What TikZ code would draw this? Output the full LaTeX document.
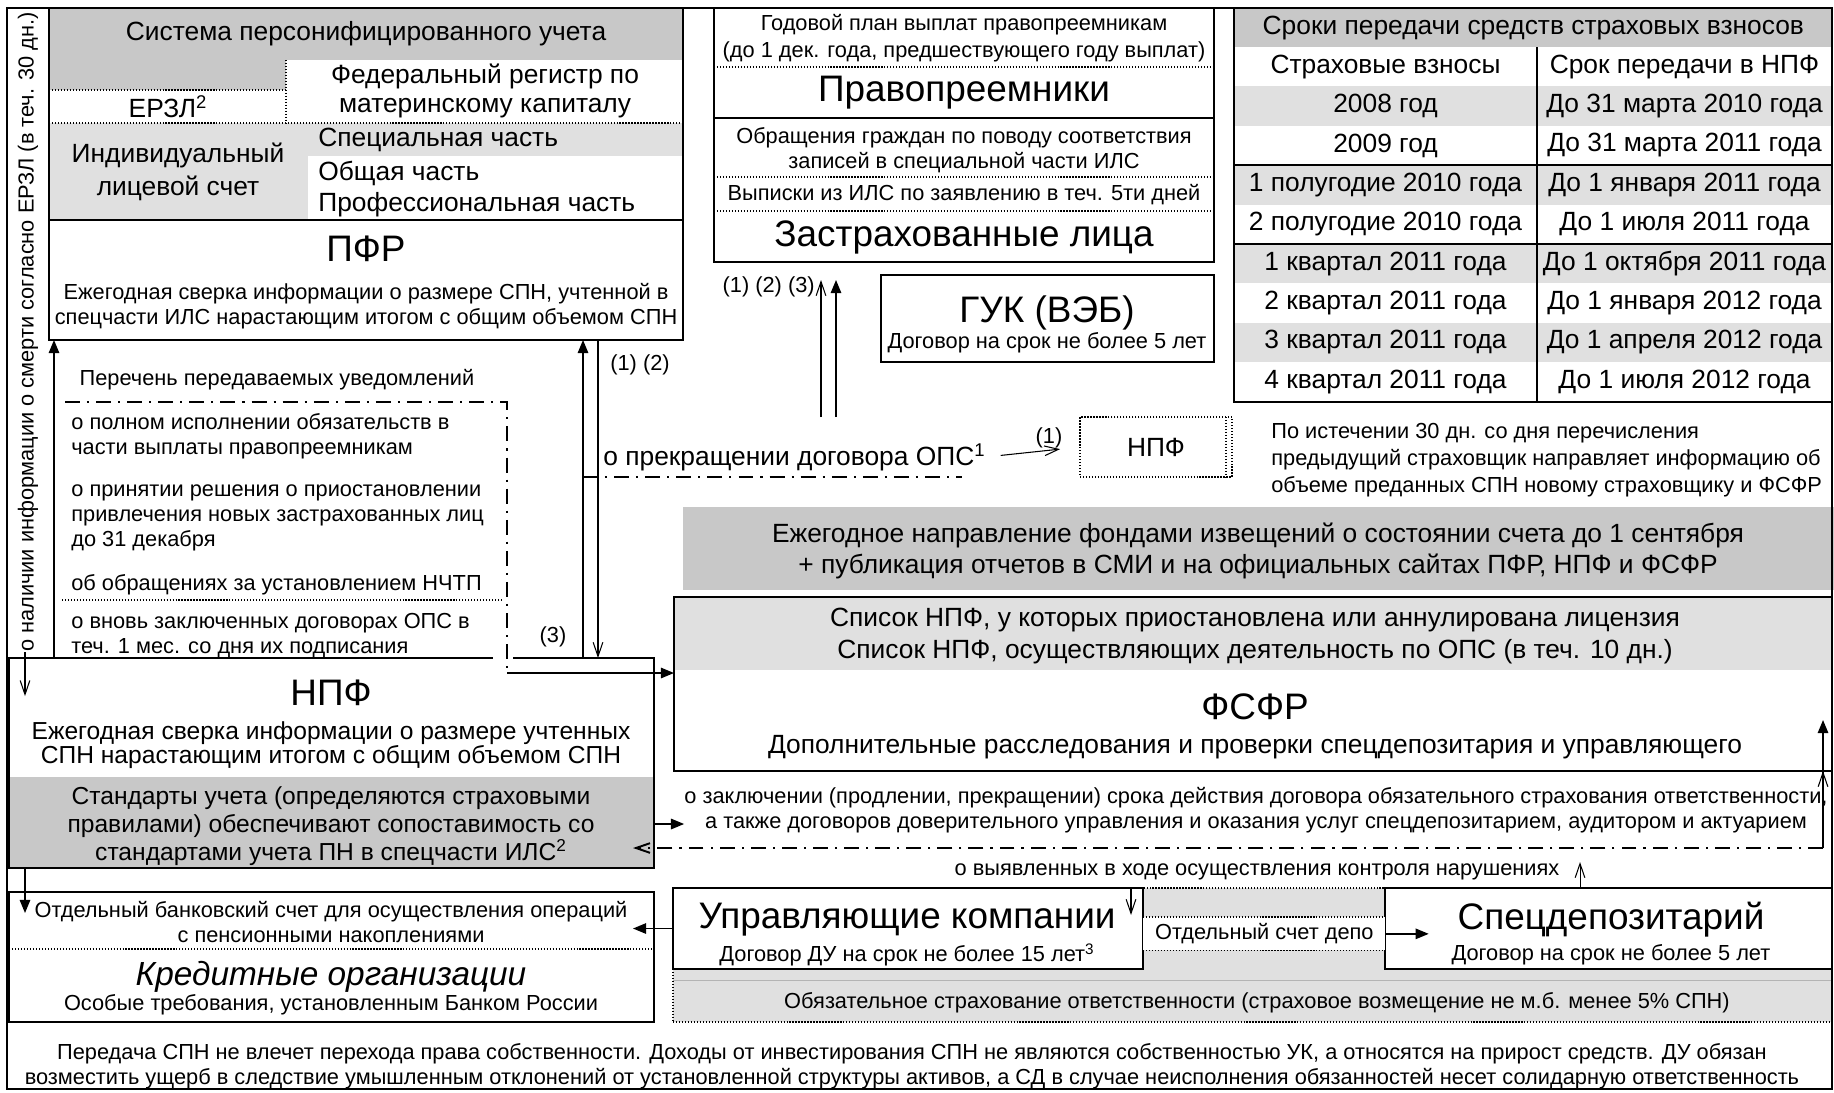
\documentclass[tikz,border=0pt]{standalone}
\usepackage{fontspec}
\setmainfont{Liberation Sans}
\usetikzlibrary{positioning, arrows.meta}
\definecolor{cShade}{HTML}{C8C8C8}
\definecolor{cTint}{HTML}{E0E0E0}
\definecolor{cRule}{HTML}{B4B4B4}
\tikzset{
  boxline/.style = {
    draw,
    line width=1.1pt
  },
  block/.style = {
    rectangle,
    boxline,
    inner sep=0pt,
    outer sep=0pt
  },
  area/.style 2 args = {
    minimum width=#1*0.02cm,
    minimum height=#2*0.02cm,
    anchor=north west
  },
  note/.style = {
    draw,
    line width=0.7pt,
    densely dotted
  },
  notice/.style = {
    draw,
    line width=1.1pt,
    dash pattern=on 8.5pt off 4pt on 1.2pt off 4pt
  },
  txt/.style = {
    inner sep=0pt,
    align=center,
    font=\fontsize{15}{17}\selectfont
  },
  txtsm/.style = {
    txt,
    font=\fontsize{12.4}{14.2}\selectfont
  },
  txtmd/.style = {
    txt,
    font=\fontsize{14}{16}\selectfont
  },
  txtbg/.style = {
    txt,
    font=\fontsize{21}{24}\selectfont
  },
  cell/.style = {
    txt,
    minimum height=39.4*0.02cm,
    outer sep=0pt
  },
  lcol/.style = {cell, minimum width=303*0.02cm},
  rcol/.style = {cell, minimum width=295*0.02cm},
  line/.style = {
    draw,
    line width=0.8pt,
    -{Triangle[length=7.5pt, width=6pt]}
  },
  oline/.style = {
    draw,
    line width=0.6pt,
    -{Straight Barb[length=8pt, width=5.5pt]}
  }
}
\begin{document}
\begin{tikzpicture}[x=0.02cm, y=-0.02cm]
  \useasboundingbox (0,0) rectangle (1834,1092);
  % shaded areas
  \fill[cShade] (49,8) rectangle (683,60);
  \fill[cShade] (49,60) rectangle (286,90);
  \fill[cTint] (49,123) rectangle (308,220);
  \fill[cTint] (308,123) rectangle (683,156);
  \fill[cShade] (683,507) rectangle (1834,590);
  \fill[cTint] (674,597) rectangle (1832,670);
  \fill[cShade] (9,777) rectangle (654,868);
  \fill[cTint] (673,888) rectangle (1832,1022);
  \draw[cRule, line width=0.5pt] (673,980) -- (1832,980);

  % table of terms
  \node[txt, fill=cShade, minimum width=598*0.02cm, minimum height=39*0.02cm, anchor=north west] (tab-0) at (1234,8) {Сроки передачи средств страховых взносов};
  \node[lcol, anchor=north west] (term-1) at (1234,47) {Страховые взносы};
  \node[rcol, right=0pt of term-1] (date-1) {Срок передачи в НПФ};
  \node[lcol, fill=cTint, below=0pt of term-1] (term-2) {2008 год};
  \node[rcol, fill=cTint, right=0pt of term-2] (date-2) {До 31 марта 2010 года};
  \node[lcol, below=0pt of term-2] (term-3) {2009 год};
  \node[rcol, right=0pt of term-3] (date-3) {До 31 марта 2011 года};
  \node[lcol, fill=cTint, below=0pt of term-3] (term-4) {1 полугодие 2010 года};
  \node[rcol, fill=cTint, right=0pt of term-4] (date-4) {До 1 января 2011 года};
  \node[lcol, below=0pt of term-4] (term-5) {2 полугодие 2010 года};
  \node[rcol, right=0pt of term-5] (date-5) {До 1 июля 2011 года};
  \node[lcol, fill=cTint, below=0pt of term-5] (term-6) {1 квартал 2011 года};
  \node[rcol, fill=cTint, right=0pt of term-6] (date-6) {До 1 октября 2011 года};
  \node[lcol, below=0pt of term-6] (term-7) {2 квартал 2011 года};
  \node[rcol, right=0pt of term-7] (date-7) {До 1 января 2012 года};
  \node[lcol, fill=cTint, below=0pt of term-7] (term-8) {3 квартал 2011 года};
  \node[rcol, fill=cTint, right=0pt of term-8] (date-8) {До 1 апреля 2012 года};
  \node[lcol, below=0pt of term-8] (term-9) {4 квартал 2011 года};
  \node[rcol, right=0pt of term-9] (date-9) {До 1 июля 2012 года};
  \draw[boxline] (term-3.south west) -- (date-3.south east);
  \draw[boxline] (term-5.south west) -- (date-5.south east);
  \draw[boxline] (date-1.north west) -- (date-9.south west);

  % boxes
  \draw[boxline] (7,8) rectangle (1832,1089);
  \node[block, area={634}{212}] (sys) at (49,8) {};
  \node[block, area={634}{120}] (pfr) at (49,220) {};
  \node[block, area={500}{254}] (heirs) at (714,8) {};
  \node[block, area={333}{87}] (guk) at (881,275) {};
  \node[block, area={598}{394}] (terms) at (1234,8) {};
  \node[block, area={645}{210}] (npf) at (9,658) {};
  \node[block, area={645}{130}] (bank) at (9,892) {};
  \node[block, area={1158}{174}] (fsfr) at (674,597) {};
  \node[block, note, area={1159}{134}] (insur) at (673,888) {};
  \node[block, fill=white, area={470}{81}] (uk) at (673,888) {};
  \node[block, fill=white, area={447}{81}] (sd) at (1385,888) {};
  \node[txtsm, fill=white, area={242}{33}] (depo) at (1143,917) {Отдельный счет депо};
  \node[block, note, txt, area={152}{60}] (npfnew) at (1080,417) {НПФ};
  \draw[note] ([xshift=-0.12cm]npfnew.north east) -- ([xshift=-0.12cm]npfnew.south east);

  % separators
  \draw[note] (286,60) -- (286,123);
  \draw[note] (49,90) -- (286,90);
  \draw[note] (49,123) -- (683,123);
  \draw[note] (714,67) -- (1214,67);
  \draw[boxline] (714,118) -- (1214,118);
  \draw[note] (714,177) -- (1214,177);
  \draw[note] (714,211) -- (1214,211);
  \draw[note] (62,600) -- (504,600);
  \draw[note] (9,949) -- (654,949);
  \draw[note] (depo.north west) -- (depo.north east);
  \draw[note] (depo.south west) -- (depo.south east);
  \draw[white, line width=3pt] (493,658) -- (513,658);
  \draw[notice] (65,402) -- (507,402) -- (507,673);
  \draw[notice] (583,477) -- (962,477);

  % texts
  \node[txtsm, rotate=90] (death) at (28,332) {о наличии информации о смерти согласно ЕРЗЛ (в теч. 30 дн.)};
  \node[txt] (sys-name) at (366,34) {Система персонифицированного учета};
  \node[txt] (erzl) at (168,107) {ЕРЗЛ\textsuperscript{2}};
  \node[txt] (fedreg) at (485,91) {Федеральный регистр по\\материнскому капиталу};
  \node[txt] (ils) at (178,172) {Индивидуальный\\[2pt]лицевой счет};
  \node[txt, anchor=west] (ils-1) at (318,140) {Специальная часть};
  \node[txt, anchor=west] (ils-2) at (318,173) {Общая часть};
  \node[txt, anchor=west] (ils-3) at (318,205) {Профессиональная часть};
  \node[txtbg] (pfr-name) at (366,249) {ПФР};
  \node[txtsm] (pfr-note) at (366,306) {Ежегодная сверка информации о размере СПН, учтенной в\\спецчасти ИЛС нарастающим итогом с общим объемом СПН};

  \node[txtsm] (plan) at (964,38) {Годовой план выплат правопреемникам\\[1pt](до 1 дек. года, предшествующего году выплат)};
  \node[txtbg] (heirs-name) at (964,93) {Правопреемники};
  \node[txtsm] (claims) at (964,150) {Обращения граждан по поводу соответствия\\записей в специальной части ИЛС};
  \node[txtsm] (extract) at (964,195) {Выписки из ИЛС по заявлению в теч. 5ти дней};
  \node[txtbg] (insured) at (964,237) {Застрахованные лица};
  \node[txtbg] (guk-name) at (1047,313) {ГУК (ВЭБ)};
  \node[txtsm] (guk-term) at (1047,343) {Договор на срок не более 5 лет};

  \node[txtsm] (list-head) at (277,380) {Перечень передаваемых уведомлений};
  \node[txtsm, align=left, anchor=west] (item-1) at (71,436) {о полном исполнении обязательств в\\части выплаты правопреемникам};
  \node[txtsm, align=left, anchor=west] (item-2) at (71,518) {о принятии решения о приостановлении\\привлечения новых застрахованных лиц\\до 31 декабря};
  \node[txtsm, align=left, anchor=west] (item-3) at (71,585) {об обращениях за установлением НЧТП};
  \node[txtsm, align=left, anchor=west] (item-4) at (71,636) {о вновь заключенных договорах ОПС в\\теч. 1 мес. со дня их подписания};
  \node[txtsm] (num-3) at (553,637) {(3)};
  \node[txtsm] (num-12) at (640,365) {(1) (2)};
  \node[txtsm, anchor=east] (num-123) at (815,287) {(1) (2) (3)};

  \node[txt, anchor=west] (stop) at (603,457) {о прекращении договора ОПС\textsuperscript{1}};
  \node[txtsm] (stop-num) at (1049,438) {(1)};
  \node[txtsm, align=left, anchor=west] (transfer) at (1271,460) {По истечении 30 дн. со дня перечисления\\[1pt]предыдущий страховщик направляет информацию об\\[1pt]объеме преданных СПН новому страховщику и ФСФР};
  \node[txt] (report) at (1258,551) {Ежегодное направление фондами извещений о состоянии счета до 1 сентября\\[1pt]+ публикация отчетов в СМИ и на официальных сайтах ПФР, НПФ и ФСФР};
  \node[txt] (lists) at (1255,636) {Список НПФ, у которых приостановлена или аннулирована лицензия\\[1pt]Список НПФ, осуществляющих деятельность по ОПС (в теч. 10 дн.)};
  \node[txtbg] (fsfr-name) at (1255,707) {ФСФР};
  \node[txt] (fsfr-note) at (1255,747) {Дополнительные расследования и проверки спецдепозитария и управляющего};
  \node[txtsm] (contracts) at (1256,810) {о заключении (продлении, прекращении) срока действия договора обязательного страхования ответственности,\\а также договоров доверительного управления и оказания услуг спецдепозитарием, аудитором и актуарием};
  \node[txtsm] (breach) at (1257,872) {о выявленных в ходе осуществления контроля нарушениях};

  \node[txtbg] (npf-name) at (331,693) {НПФ};
  \node[txtmd] (npf-note) at (331,745) {Ежегодная сверка информации о размере учтенных\\[-2pt]СПН нарастающим итогом с общим объемом СПН};
  \node[txtmd] (standards) at (331,826) {Стандарты учета (определяются страховыми\\правилами) обеспечивают сопоставимость со\\стандартами учета ПН в спецчасти ИЛС\textsuperscript{2}};
  \node[txtsm] (account) at (331,922) {Отдельный банковский счет для осуществления операций\\с пенсионными накоплениями};
  \node[txt, font=\fontsize{19}{22}\selectfont\itshape] (bank-name) at (331,977) {Кредитные организации};
  \node[txtsm] (bank-note) at (331,1005) {Особые требования, установленным Банком России};

  \node[txtbg] (uk-name) at (907,920) {Управляющие компании};
  \node[txtsm] (uk-term) at (907,955) {Договор ДУ на срок не более 15 лет\textsuperscript{3}};
  \node[txtbg] (sd-name) at (1611,920) {Спецдепозитарий};
  \node[txtsm] (sd-term) at (1611,955) {Договор на срок не более 5 лет};
  \node[txtsm] (insur-note) at (1257,1003) {Обязательное страхование ответственности (страховое возмещение не м.б. менее 5\% СПН)};
  \node[txtsm] (summary) at (912,1066) {Передача СПН не влечет перехода права собственности. Доходы от инвестирования СПН не являются собственностью УК, а относятся на прирост средств. ДУ обязан\\возместить ущерб в следствие умышленным отклонений от установленной структуры активов,  а СД в случае неисполнения обязанностей несет солидарную ответственность};

  % connectors
  \coordinate (xa) at (54,0);
  \coordinate (xb) at (583,0);
  \coordinate (xc) at (598,0);
  \coordinate (xd) at (25,0);
  \coordinate (xe) at (821,417);
  \coordinate (xf) at (836,417);
  \coordinate (xg) at (1823,848);
  \coordinate (xh) at (1580,0);
  \coordinate (xi) at (1131,0);
  \coordinate (list-end) at (507,673);
  \coordinate (npf-out) at (654,824);
  \coordinate (npf-in) at (633,848);
  \path[line] (npf.north -| xa) -- (pfr.south -| xa);
  \path[line] (npf.north -| xb) -- (pfr.south -| xb);
  \path[oline] (pfr.south -| xc) -- (npf.north -| xc);
  \path[oline] (death.west -| xd) -- ++(0,44);
  \path[oline, shorten >=0.36cm] (xe) -- (xe |- heirs.south);
  \path[line, shorten >=0.36cm] (xf) -- (xf |- heirs.south);
  \path[oline, shorten <=0.3cm, shorten >=0.4cm] (stop.east) -- (npfnew.west);
  \path[line] (list-end) -- (fsfr.west |- list-end);
  \path[line] (npf-out) -- (contracts.west |- npf-out);
  \path[notice, -{Straight Barb[length=8pt, width=5.5pt]}] (xg) -- (npf-in);
  \path[line] (xg) -- ++(0,-128);
  \path[oline] (xg) -- (fsfr.south -| xg);
  \path[oline] (sd.north -| xh) -- ++(0,-26);
  \path[oline] (uk.north -| xi) -- ++(0,27);
  \path[line] (depo.east) -- ++(43,0);
  \path[line] (uk.west) -- ++(-40,0);
  \path[line] (npf.south -| xd) -- ++(0,45);
\end{tikzpicture}
\end{document}
